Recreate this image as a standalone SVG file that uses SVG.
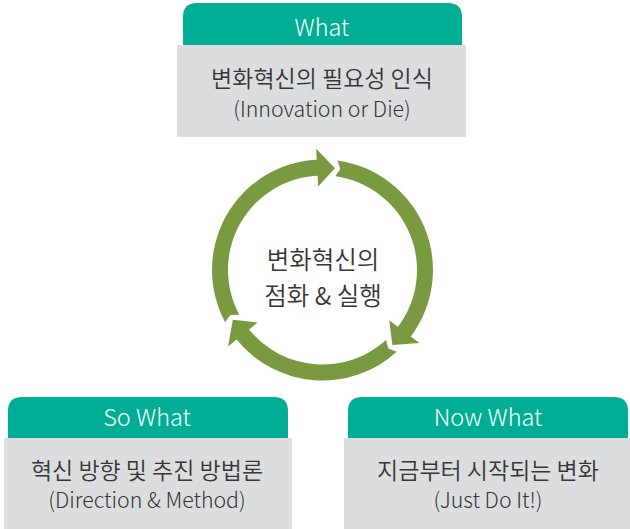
<svg xmlns="http://www.w3.org/2000/svg" width="630" height="529" viewBox="0 0 630 529">
  <style>
    .head { fill: #00AE95; }
    .body { fill: #DCDDDF; }
    .arrow { fill: #7A9A41; }
    text { font-family: "Noto Sans CJK KR", "Noto Sans", sans-serif; text-anchor: middle; font-weight: 350; }
    .htxt { fill: #FFFFFF; font-size: 23.5px; font-weight: 300; }
    .btxt { fill: #363636; font-size: 23px; }
    .ltxt { fill: #363636; font-size: 21.3px; font-weight: 300; }
    .ctxt { fill: #363636; font-size: 24.5px; }
  </style>

  <!-- cycle of three curved arrows -->
  <g id="connectors">
    <path class="arrow" d="M 337.50,160.52 A 110.5 110.5 0 0 1 410.75,336.50 L 419.53,343.12 L 392.41,344.96 L 389.19,320.25 L 397.97,326.87 A 94.5 94.5 0 0 0 335.33,176.37 L 340.30,169.06 Z"/>
    <path class="arrow" d="M 396.73,351.86 A 110.5 110.5 0 0 1 236.62,339.54 L 228.08,346.46 L 232.85,319.69 L 257.61,322.55 L 249.06,329.47 A 94.5 94.5 0 0 0 385.98,340.01 L 388.39,348.52 Z"/>
    <path class="arrow" d="M 225.12,322.22 A 110.5 110.5 0 0 1 316.72,159.65 L 316.14,148.67 L 334.99,168.26 L 318.13,186.61 L 317.55,175.63 A 94.5 94.5 0 0 0 239.22,314.66 L 230.37,314.93 Z"/>
  </g>

  <g id="center">
    <text class="ctxt" x="323" y="269">변화혁신의</text>
    <text class="ctxt" x="323" y="305">점화 &amp; 실행</text>
  </g>

  <g id="what">
    <path class="head" d="M 183,45 L 183,17 Q 183,3 197,3 L 448,3 Q 462,3 462,17 L 462,45 Z"/>
    <rect class="body" x="177" y="45" width="289" height="92"/>
    <text class="htxt" x="322" y="36">What</text>
    <text class="btxt" x="322" y="87">변화혁신의 필요성 인식</text>
    <text class="ltxt" x="322" y="117">(Innovation or Die)</text>
  </g>

  <g id="so-what">
    <path class="head" d="M 8,438 L 8,411 Q 8,397 22,397 L 274,397 Q 288,397 288,411 L 288,438 Z"/>
    <rect class="body" x="4" y="438" width="288" height="91"/>
    <text class="htxt" x="147" y="426">So What</text>
    <text class="btxt" x="147" y="479">혁신 방향 및 추진 방법론</text>
    <text class="ltxt" x="147" y="508">(Direction &amp; Method)</text>
  </g>

  <g id="now-what">
    <path class="head" d="M 348,438 L 348,411 Q 348,397 362,397 L 614,397 Q 628,397 628,411 L 628,438 Z"/>
    <rect class="body" x="344" y="438" width="286" height="91"/>
    <text class="htxt" x="488" y="426">Now What</text>
    <text class="btxt" x="488" y="479">지금부터 시작되는 변화</text>
    <text class="ltxt" x="488" y="508">(Just Do It!)</text>
  </g>
</svg>
